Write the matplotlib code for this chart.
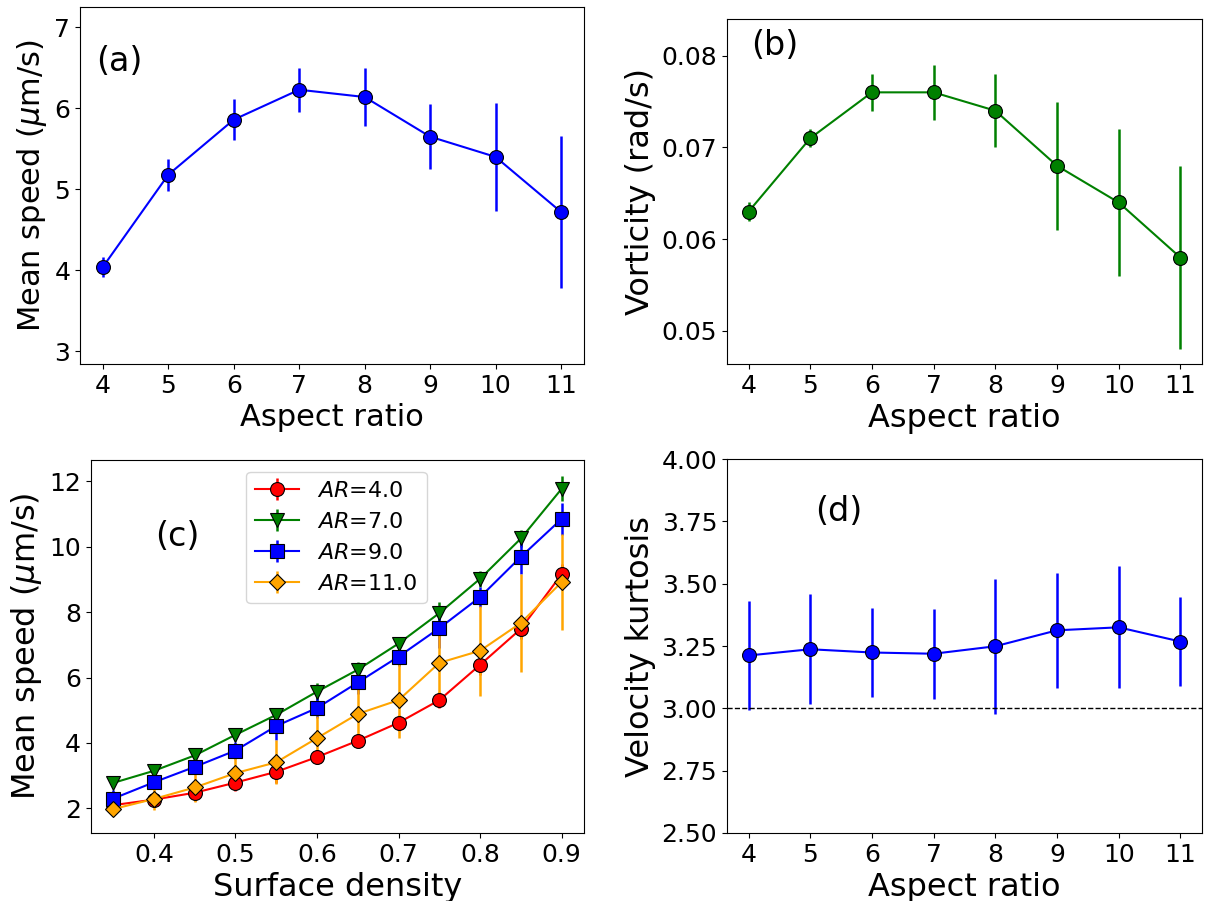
import numpy as np
import matplotlib
matplotlib.use('Agg')
import matplotlib.pyplot as plt

# Dados: velocidade média, vorticidade e curtose vs razão de aspecto
ar = [4, 5, 6, 7, 8, 9, 10, 11]
speed = [4.04, 5.18, 5.86, 6.23, 6.14, 5.65, 5.40, 4.72]
speed_err = [0.12, 0.20, 0.25, 0.27, 0.36, 0.40, 0.67, 0.94]
vort = [0.063, 0.071, 0.076, 0.076, 0.074, 0.068, 0.064, 0.058]
vort_err = [0.001, 0.001, 0.002, 0.003, 0.004, 0.007, 0.008, 0.010]
kurt = [3.212, 3.237, 3.224, 3.219, 3.249, 3.313, 3.325, 3.268]
kurt_err = [0.22, 0.22, 0.18, 0.18, 0.27, 0.23, 0.245, 0.18]

# Velocidade média vs densidade superficial para cada AR
dens = [0.35, 0.40, 0.45, 0.50, 0.55, 0.60, 0.65, 0.70, 0.75, 0.80, 0.85, 0.90]
v_ar4 = [2.10, 2.27, 2.48, 2.79, 3.12, 3.57, 4.07, 4.62, 5.31, 6.39, 7.49, 9.16]
e_ar4 = [0.10, 0.10, 0.25, 0.25, 0.35, 0.15, 0.20, 0.25, 0.25, 0.30, 0.30, 0.30]
v_ar7 = [2.78, 3.15, 3.62, 4.25, 4.86, 5.57, 6.24, 7.04, 7.97, 9.02, 10.25, 11.77]
e_ar7 = [0.15, 0.15, 0.15, 0.20, 0.20, 0.25, 0.25, 0.20, 0.33, 0.25, 0.25, 0.38]
v_ar9 = [2.30, 2.80, 3.27, 3.77, 4.52, 5.07, 5.85, 6.64, 7.51, 8.46, 9.69, 10.85]
e_ar9 = [0.25, 0.20, 0.20, 0.25, 0.42, 0.30, 0.35, 0.30, 0.60, 0.30, 0.54, 0.48]
v_ar11 = [1.98, 2.29, 2.64, 3.08, 3.41, 4.15, 4.89, 5.31, 6.45, 6.82, 7.67, 8.92]
e_ar11 = [0.15, 0.35, 0.45, 0.50, 0.67, 0.66, 0.92, 1.17, 1.10, 1.37, 1.50, 1.46]

fig = plt.figure(figsize=(12.23, 9.01), dpi=100)
ax1 = fig.add_axes([0.0654, 0.596, 0.412, 0.396])
ax2 = fig.add_axes([0.5944, 0.596, 0.3884, 0.383])
ax3 = fig.add_axes([0.0742, 0.0755, 0.4034, 0.414])
ax4 = fig.add_axes([0.5944, 0.0755, 0.3884, 0.415])

estilo = dict(marker='o', markersize=10, markeredgecolor='k', markeredgewidth=0.8,
              linewidth=1.5, elinewidth=1.8)

# (a)
ax1.errorbar(ar, speed, yerr=speed_err, color='blue', **estilo)
ax1.set_ylim(2.84, 7.25)
ax1.set_yticks([3, 4, 5, 6, 7])
ax1.set_xticks(ar)
ax1.set_xlabel('Aspect ratio', fontsize=22)
ax1.set_ylabel(r'Mean speed ($\mu$m/s)', fontsize=22)
ax1.text(0.033, 0.895, '(a)', transform=ax1.transAxes, fontsize=24, va='top')

# (b)
ax2.errorbar(ar, vort, yerr=vort_err, color='green', **estilo)
ax2.set_ylim(0.0464, 0.0840)
ax2.set_yticks([0.05, 0.06, 0.07, 0.08])
ax2.set_xticks(ar)
ax2.set_xlabel('Aspect ratio', fontsize=23)
ax2.set_ylabel('Vorticity (rad/s)', fontsize=23)
ax2.text(0.05, 0.97, '(b)', transform=ax2.transAxes, fontsize=24, va='top')

# (c)
series = [(v_ar4, e_ar4, 'red', 'o', r'$AR$=4.0'),
          (v_ar7, e_ar7, 'green', 'v', r'$AR$=7.0'),
          (v_ar9, e_ar9, 'blue', 's', r'$AR$=9.0'),
          (v_ar11, e_ar11, 'orange', 'D', r'$AR$=11.0')]
for v, e, c, m, lab in series:
    ms = 8.5 if m == 'D' else 10
    ax3.errorbar(dens, v, yerr=e, color=c, marker=m, markersize=ms,
                 markeredgecolor='k', markeredgewidth=0.8, linewidth=1.5,
                 elinewidth=1.8, label=lab)
ax3.set_ylim(1.25, 12.65)
ax3.set_yticks([2, 4, 6, 8, 10, 12])
ax3.set_xticks([0.4, 0.5, 0.6, 0.7, 0.8, 0.9])
ax3.set_xlabel('Surface density', fontsize=23)
ax3.set_ylabel(r'Mean speed ($\mu$m/s)', fontsize=23)
ax3.text(0.13, 0.84, '(c)', transform=ax3.transAxes, fontsize=24, va='top')
ax3.legend(loc='upper left', bbox_to_anchor=(0.315, 0.968), borderaxespad=0,
           fontsize=16)

# (d)
ax4.errorbar(ar, kurt, yerr=kurt_err, color='blue', **estilo)
ax4.axhline(3.0, color='k', linestyle='--', linewidth=1)
ax4.set_ylim(2.5, 4.0)
ax4.set_yticks([2.5, 2.75, 3.0, 3.25, 3.5, 3.75, 4.0])
ax4.set_yticklabels(['2.50', '2.75', '3.00', '3.25', '3.50', '3.75', '4.00'])
ax4.set_xticks(ar)
ax4.set_xlabel('Aspect ratio', fontsize=23)
ax4.set_ylabel('Velocity kurtosis', fontsize=23)
ax4.text(0.185, 0.905, '(d)', transform=ax4.transAxes, fontsize=24, va='top')

for ax in (ax1, ax2, ax3, ax4):
    ax.tick_params(labelsize=18)

fig.savefig('out.png', dpi=100)
